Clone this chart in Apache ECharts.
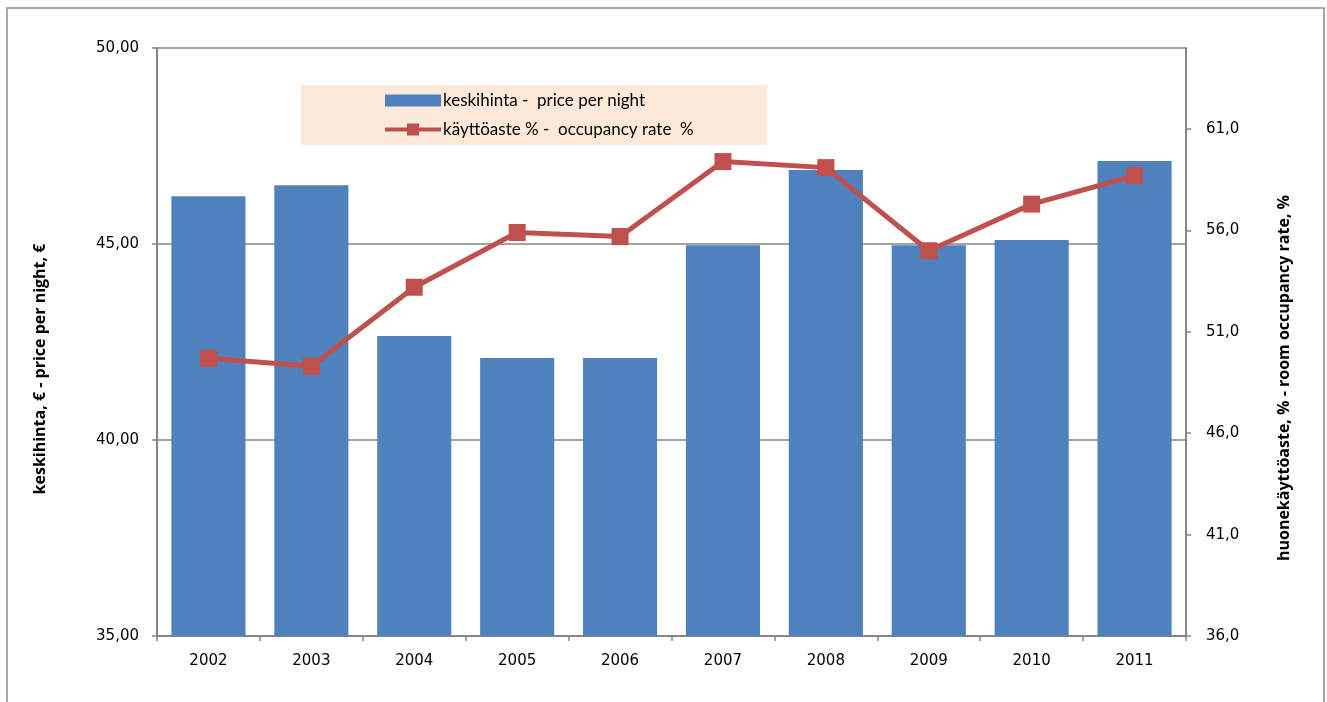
<!DOCTYPE html>
<html>
<head>
<meta charset="utf-8">
<script src="https://cdn.jsdelivr.net/npm/echarts@6/dist/echarts.min.js"></script>
<style>html,body{margin:0;padding:0;background:#fff}#c{width:1327px;height:702px}</style>
</head>
<body>
<div id="c"></div>
<script>
var years = ['2002','2003','2004','2005','2006','2007','2008','2009','2010','2011'];
var pricePerNight = [46.22, 46.50, 42.65, 42.09, 42.09, 44.97, 46.89, 44.97, 45.10, 47.12];
var occupancyRate = [49.7, 49.3, 53.2, 55.9, 55.7, 59.4, 59.1, 55.0, 57.3, 58.7];
var rightTicks = [36, 41, 46, 51, 56, 61];

var chart = echarts.init(document.getElementById('c'));
var axisGray = '#868686';
var lineIcon = 'path://M0,4L22,4L22,0L34,0L34,4L56,4L56,8L34,8L34,12L22,12L22,8L0,8Z';
chart.setOption({
  animation: false,
  backgroundColor: '#fff',
  graphic: [
    { type: 'rect', shape: { x: 7, y: 8, width: 1317, height: 720 }, style: { fill: 'none', stroke: '#8c8c8c', lineWidth: 1.5 }, z: 0 },
    { type: 'rect', shape: { x: 301, y: 85, width: 466, height: 60 }, style: { fill: '#fde9d9' }, z: 1 }
  ],
  legend: {
    orient: 'vertical',
    left: 380,
    top: 87,
    itemWidth: 56,
    itemHeight: 12,
    itemGap: 12,
    textStyle: { fontFamily: 'Lato', fontSize: 17, color: '#000', padding: [0, 0, 0, -3] },
    data: [
      { name: 'keskihinta -  price per night', icon: 'rect' },
      { name: 'käyttöaste % -  occupancy rate  %', icon: lineIcon, itemStyle: { color: '#c0504d' } }
    ]
  },
  grid: { left: 157, right: 141, top: 48, bottom: 66 },
  xAxis: {
    type: 'category',
    data: years,
    boundaryGap: true,
    axisLine: { lineStyle: { color: axisGray, width: 2 } },
    axisTick: { show: true, length: 5, lineStyle: { color: axisGray, width: 1.5 } },
    axisLabel: { color: '#000', fontFamily: 'DejaVu Sans', fontSize: 15, margin: 18 }
  },
  yAxis: [
    {
      type: 'value', min: 35, max: 50, interval: 5,
      name: 'keskihinta, € - price per night, €',
      nameLocation: 'middle', nameGap: 109,
      nameTextStyle: { fontFamily: 'Open Sans', fontWeight: 'bold', fontSize: 16, color: '#000', padding: [0, 54, 0, 0] },
      axisLine: { show: true, lineStyle: { color: axisGray, width: 2 } },
      axisTick: { show: true, length: 5, lineStyle: { color: axisGray, width: 1.5 } },
      splitLine: { show: true, lineStyle: { color: axisGray, width: 1.5 } },
      axisLabel: { color: '#000', fontFamily: 'DejaVu Sans', fontSize: 15, margin: 18,
        formatter: function (v) { return v.toFixed(2).replace('.', ','); } }
    },
    {
      type: 'value', min: 36, max: 65, interval: 5, position: 'right',
      name: 'huonekäyttöaste, % - room occupancy rate, %',
      nameLocation: 'middle', nameGap: 90,
      nameTextStyle: { fontFamily: 'Open Sans', fontWeight: 'bold', fontSize: 16, color: '#000', padding: [0, 72, 0, 0] },
      axisLine: { show: true, lineStyle: { color: axisGray, width: 2 } },
      axisTick: { show: true, length: 5, customValues: rightTicks, lineStyle: { color: axisGray, width: 1.5 } },
      splitLine: { show: false },
      axisLabel: { color: '#000', fontFamily: 'DejaVu Sans', fontSize: 15, margin: 20, customValues: rightTicks,
        formatter: function (v) { return v.toFixed(1).replace('.', ','); } }
    }
  ],
  series: [
    {
      name: 'keskihinta -  price per night',
      type: 'bar',
      yAxisIndex: 0,
      data: pricePerNight,
      barCategoryGap: '28%',
      itemStyle: { color: '#4f81bd' },
      z: 2
    },
    {
      name: 'käyttöaste % -  occupancy rate  %',
      type: 'line',
      yAxisIndex: 1,
      data: occupancyRate,
      symbol: 'rect',
      symbolSize: 17,
      lineStyle: { color: '#c0504d', width: 5 },
      itemStyle: { color: '#c0504d' },
      z: 3
    }
  ]
});
</script>
</body>
</html>
